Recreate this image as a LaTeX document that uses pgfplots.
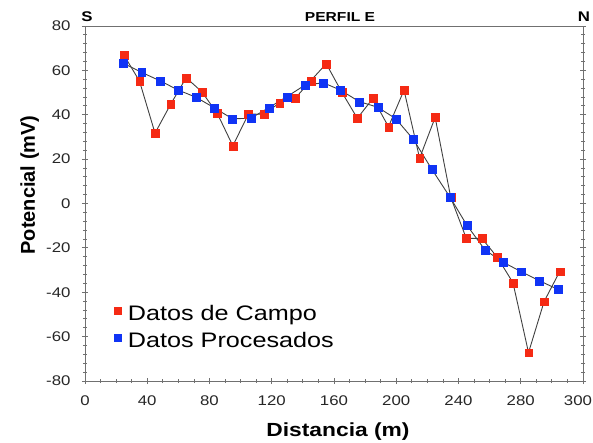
\documentclass[border=0pt]{standalone}
\usepackage{pgfplots}
\pgfplotsset{compat=1.18}
\usepackage{fontspec}
\setmainfont{Liberation Sans}
\newfontfamily\wfont[FakeStretch=1.2]{Liberation Sans}
\definecolor{rojo}{HTML}{F52A14}
\definecolor{azul}{HTML}{1034F5}
\definecolor{linea}{HTML}{404040}
\definecolor{eje}{HTML}{707070}
\begin{document}
\begin{tikzpicture}
\useasboundingbox (-85bp,-62bp) rectangle (508bp,381bp);
\begin{axis}[
  at={(0,0)}, anchor=south west,
  scale only axis, width=498bp, height=355bp,
  xmin=0, xmax=320, ymin=-80, ymax=80,
  xtick={0,40,...,320}, xticklabels={0,40,80,120,160,200,240,280,300\hspace*{10bp}},
  minor x tick num=3,
  ytick={-80,-60,...,80}, minor y tick num=4,
  xtick pos=left, ytick pos=both,
  tick align=center,
  major tick length=6bp, minor tick length=4bp,
  axis line style={draw=eje, line width=1bp},
  every tick/.style={draw=eje, line width=0.8bp},
  /pgf/number format/assume math mode=true,
  ticklabel style={font=\wfont\fontsize{14bp}{16bp}\selectfont, text=black!85},
  yticklabel style={xshift=-8bp},
  xticklabel style={yshift=-8bp},
  legend style={at={(axis cs:18.5,-45.8)}, anchor=north west, draw=none, fill=none,
    inner sep=0pt, row sep=8bp, column sep=6bp,
    font=\wfont\fontsize{21bp}{24bp}\selectfont,
    nodes={inner sep=0pt, text height=15bp, text depth=4bp}},
  legend cell align=left,
]
\addplot[linea, line width=0.9bp, mark=square*, mark size=3.9bp,
  mark options={draw=rojo, line width=0.1bp, fill=rojo},
  legend image code/.code={\fill[rojo] (0bp,0bp) rectangle (7bp,7bp);}]
  coordinates {
  (25,66.9) (35,55.2) (45,31.7) (55,44.7) (65,56.7) (75,50.4) (85,40.6)
  (95,26.0) (105,40.3) (115,40.2) (125,45.4) (135,47.4) (145,55.3) (155,63.0)
  (165,50.2) (175,38.4) (185,47.4) (195,34.6) (205,51.1) (215,20.4) (225,38.8)
  (235,2.8) (245,-15.7) (255,-15.7) (265,-24.3) (275,-35.7) (285,-67.2)
  (295,-44.2) (305,-30.7)};
\addlegendentry{Datos de Campo}
\addplot[linea, line width=0.9bp, mark=square*, mark size=3.9bp,
  mark options={draw=azul, line width=0.1bp, fill=azul},
  legend image code/.code={\fill[azul] (0bp,0bp) rectangle (7bp,7bp);}]
  coordinates {
  (24.6,63.2) (36.4,59.1) (48.2,55.3) (60.0,51.1) (71.3,47.9) (82.9,43.2)
  (94.7,38.2) (106.5,38.4) (118.1,43.2) (129.6,48.1) (141.4,53.4) (153.2,54.4)
  (163.9,51.2) (176.3,45.9) (188.1,43.4) (199.7,38.2) (211.0,28.9) (222.8,15.5)
  (234.6,2.8) (245.3,-9.7) (257.1,-21.0) (268.8,-26.5) (280.2,-30.7)
  (292.0,-34.8) (303.8,-38.7)};
\addlegendentry{Datos Procesados}
\end{axis}
\node[anchor=base, font=\wfont\bfseries\fontsize{14bp}{16bp}\selectfont] at (2bp,359.5bp) {S};
\node[anchor=base, font=\wfont\bfseries\fontsize{14bp}{16bp}\selectfont] at (499bp,359.5bp) {N};
\node[anchor=base, font=\wfont\bfseries\fontsize{13bp}{16bp}\selectfont] at (255bp,359.5bp) {PERFIL E};
\node[anchor=base, rotate=90, font=\bfseries\fontsize{20bp}{24bp}\selectfont] at (-50bp,196bp) {Potencial (mV)};
\node[anchor=base, font=\wfont\bfseries\fontsize{19bp}{24bp}\selectfont] at (253bp,-55bp) {Distancia (m)};
\end{tikzpicture}
\end{document}
